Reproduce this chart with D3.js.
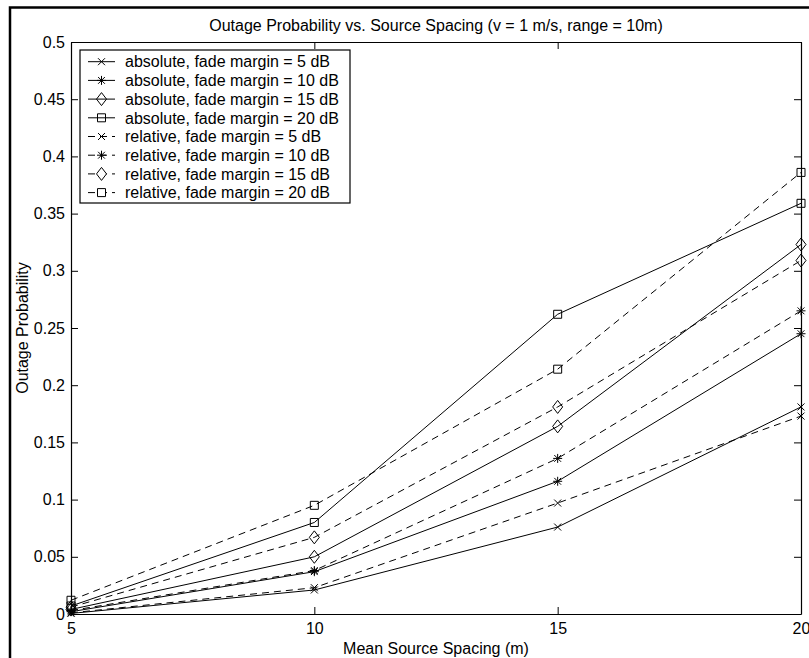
<!DOCTYPE html>
<html>
<head>
<meta charset="utf-8">
<script src="https://cdn.jsdelivr.net/npm/d3@7"></script>
<style>
  html, body { margin: 0; padding: 0; background: #fff; }
  svg { display: block; font-family: "Liberation Sans", Arial, Helvetica, sans-serif; }
</style>
</head>
<body>
<svg id="chart" width="809" height="658"></svg>
<script>
// Mean source spacing (m)
const spacing = [5, 10, 15, 20];

// Outage probability, absolute scheme, per fade margin
const absolute5  = [0.0005, 0.021, 0.076, 0.181];
const absolute10 = [0.002, 0.037, 0.116, 0.245];
const absolute15 = [0.004, 0.050, 0.164, 0.323];
const absolute20 = [0.007, 0.080, 0.262, 0.359];

// Outage probability, relative scheme, per fade margin
const relative5  = [0.001, 0.023, 0.097, 0.173];
const relative10 = [0.003, 0.038, 0.136, 0.265];
const relative15 = [0.006, 0.067, 0.181, 0.309];
const relative20 = [0.012, 0.095, 0.214, 0.386];

const xTicks = [5, 10, 15, 20];
const yTicks = [0, 0.05, 0.1, 0.15, 0.2, 0.25, 0.3, 0.35, 0.4, 0.45, 0.5];

const series = [
  { label: "absolute, fade margin = 5 dB",  values: absolute5,  marker: "x",       dashed: false },
  { label: "absolute, fade margin = 10 dB", values: absolute10, marker: "star",    dashed: false },
  { label: "absolute, fade margin = 15 dB", values: absolute15, marker: "diamond", dashed: false },
  { label: "absolute, fade margin = 20 dB", values: absolute20, marker: "square",  dashed: false },
  { label: "relative, fade margin = 5 dB",  values: relative5,  marker: "x",       dashed: true },
  { label: "relative, fade margin = 10 dB", values: relative10, marker: "star",    dashed: true },
  { label: "relative, fade margin = 15 dB", values: relative15, marker: "diamond", dashed: true },
  { label: "relative, fade margin = 20 dB", values: relative20, marker: "square",  dashed: true }
];

const W = 809, H = 658;
const plot = { left: 71, right: 801, top: 42, bottom: 614 };
const FONT = 16;

const svg = d3.select("#chart");

// Outer figure frame
svg.append("rect")
  .attr("x", 10).attr("y", 7.5)
  .attr("width", W + 20).attr("height", H + 20)
  .attr("fill", "none").attr("stroke", "#000").attr("stroke-width", 2.5);

const x = d3.scaleLinear().domain([5, 20]).range([plot.left, plot.right]);
const y = d3.scaleLinear().domain([0, 0.5]).range([plot.bottom, plot.top]);

const fmtY = d => d === 0 ? "0" : String(+d.toFixed(2));

// Axes with inward ticks on all four sides
const gBottom = svg.append("g")
  .attr("transform", `translate(0,${plot.bottom})`)
  .call(d3.axisBottom(x).tickValues(xTicks).tickSizeInner(-7).tickSizeOuter(0).tickPadding(9));
const gTop = svg.append("g")
  .attr("transform", `translate(0,${plot.top})`)
  .call(d3.axisTop(x).tickValues(xTicks).tickSizeInner(-7).tickSizeOuter(0).tickFormat(""));
const gLeft = svg.append("g")
  .attr("transform", `translate(${plot.left},0)`)
  .call(d3.axisLeft(y).tickValues(yTicks).tickSizeInner(-7).tickSizeOuter(0).tickPadding(6).tickFormat(fmtY));
const gRight = svg.append("g")
  .attr("transform", `translate(${plot.right},0)`)
  .call(d3.axisRight(y).tickValues(yTicks).tickSizeInner(-7).tickSizeOuter(0).tickFormat(""));

[gBottom, gTop, gLeft, gRight].forEach(g => {
  g.selectAll("path.domain").attr("stroke", "#000").attr("stroke-width", 1.2);
  g.selectAll(".tick line").attr("stroke", "#000").attr("stroke-width", 1);
  g.selectAll(".tick text")
    .attr("fill", "#000")
    .style("font-size", FONT + "px")
    .style("font-family", '"Liberation Sans", Arial, sans-serif');
});

// Marker shapes
function markerPath(type) {
  switch (type) {
    case "x": { const s = 3.5; return `M${-s},${-s}L${s},${s}M${-s},${s}L${s},${-s}`; }
    case "star": {
      const s = 4.5, d = 3.4;
      return `M${-s},0L${s},0M0,${-s}L0,${s}M${-d},${-d}L${d},${d}M${-d},${d}L${d},${-d}`;
    }
    case "diamond": { const w = 5, h = 6.5; return `M0,${-h}L${w},0L0,${h}L${-w},0Z`; }
    case "square": { const s = 4; return `M${-s},${-s}L${s},${-s}L${s},${s}L${-s},${s}Z`; }
  }
}

const line = d3.line().x((d, i) => x(spacing[i])).y(d => y(d));

const gData = svg.append("g");
series.forEach(s => {
  gData.append("path")
    .attr("d", line(s.values))
    .attr("fill", "none")
    .attr("stroke", "#000")
    .attr("stroke-width", 1)
    .attr("stroke-dasharray", s.dashed ? "7,5" : null);
  gData.selectAll(null)
    .data(s.values)
    .enter().append("path")
    .attr("transform", (d, i) => `translate(${x(spacing[i])},${y(d)})`)
    .attr("d", markerPath(s.marker))
    .attr("fill", "none")
    .attr("stroke", "#000")
    .attr("stroke-width", 1);
});

// Legend
const legend = svg.append("g");
legend.append("rect")
  .attr("x", 80).attr("y", 50).attr("width", 270).attr("height", 153)
  .attr("fill", "#fff").attr("stroke", "#000").attr("stroke-width", 1.2);
series.forEach((s, i) => {
  const cy = 61.7 + i * 18.7;
  legend.append("line")
    .attr("x1", 88).attr("x2", 115).attr("y1", cy).attr("y2", cy)
    .attr("stroke", "#000").attr("stroke-width", 1)
    .attr("stroke-dasharray", s.dashed ? "7,5" : null);
  legend.append("path")
    .attr("transform", `translate(101.5,${cy})`)
    .attr("d", markerPath(s.marker))
    .attr("fill", s.dashed ? "#fff" : "none")
    .attr("stroke", "#000").attr("stroke-width", 1);
  legend.append("text")
    .attr("x", 125).attr("y", cy).attr("dy", "0.36em")
    .style("font-size", FONT + "px")
    .text(s.label);
});

// Title and axis labels
svg.append("text")
  .attr("x", (plot.left + plot.right) / 2).attr("y", 25).attr("dy", "0.36em")
  .attr("text-anchor", "middle").style("font-size", FONT + "px")
  .text("Outage Probability vs. Source Spacing (v = 1 m/s, range = 10m)");
svg.append("text")
  .attr("x", (plot.left + plot.right) / 2).attr("y", 648).attr("dy", "0.36em")
  .attr("text-anchor", "middle").style("font-size", FONT + "px")
  .text("Mean Source Spacing (m)");
svg.append("text")
  .attr("transform", `translate(22,${(plot.top + plot.bottom) / 2}) rotate(-90)`)
  .attr("dy", "0.36em")
  .attr("text-anchor", "middle").style("font-size", FONT + "px")
  .text("Outage Probability");
</script>
</body>
</html>
